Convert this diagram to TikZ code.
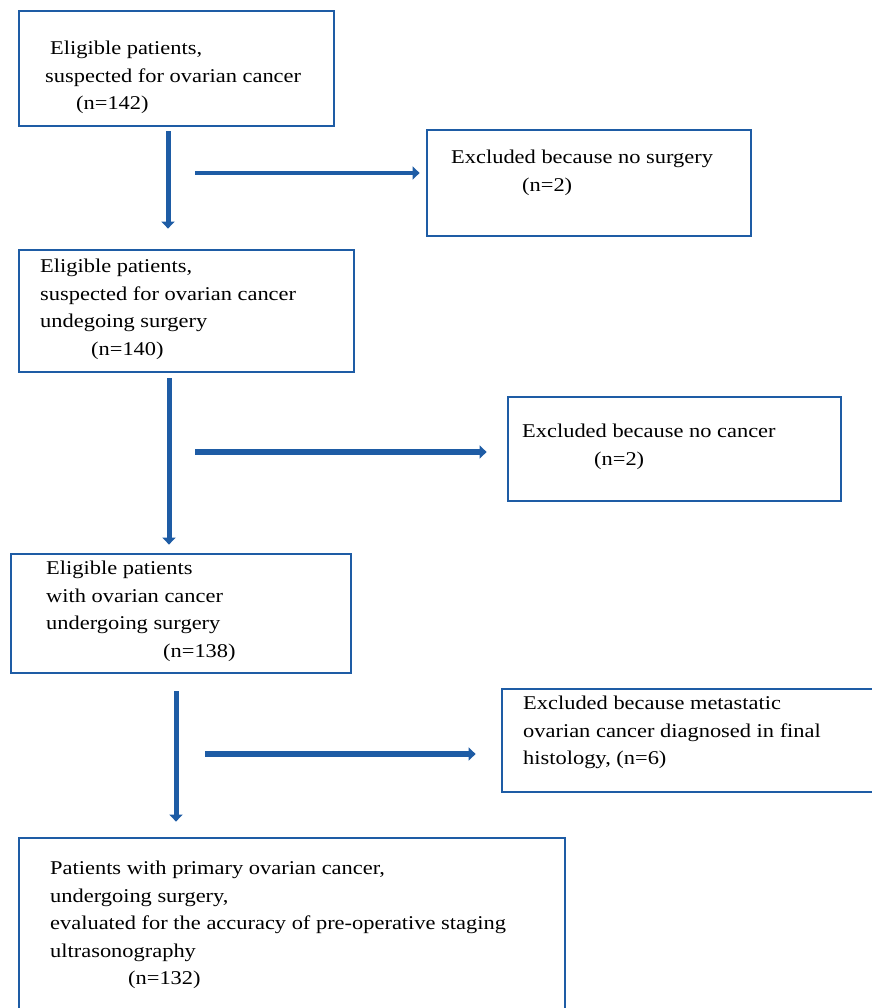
\documentclass[tikz,border=0pt]{standalone}
\usepackage{fontspec}
\setmainfont{Liberation Serif}[FakeStretch=1.15]
\usepackage{tikz}
\usetikzlibrary{positioning,arrows.meta}
\definecolor{azulcaja}{RGB}{30,92,165}
\tikzset{caja/.style={draw=azulcaja, line width=2.8pt, rectangle, inner sep=0pt}}
\tikzset{texto/.style={anchor=north west, inner sep=0pt, align=left, font=\fontsize{19.5}{27.5}\selectfont}}
\tikzset{flecha/.style={draw=azulcaja, line width=5pt, -{Triangle[length=7pt,width=13pt]}}}

\begin{document}
\begin{tikzpicture}[x=1pt, y=-1pt]
            \useasboundingbox (0,0) rectangle (871,1008);
            % cajas principales
            \node[caja, minimum width=315, minimum height=115] (1) at (176.5,68.5) {};
            \node[caja, minimum width=335, minimum height=122] (2) at (186.5,311) {};
            \node[caja, minimum width=340, minimum height=119] (3) at (181,613.5) {};
            \node[caja, minimum width=546, minimum height=182] (4) at (292,929) {};
            % cajas de excluidos
            \node[caja, minimum width=324, minimum height=106] (x1) at (589,183) {};
            \node[caja, minimum width=333, minimum height=104] (x2) at (674.5,449) {};
            \node[caja, minimum width=383, minimum height=103] (x3) at (693.5,740.5) {};

            \node[texto] (t1) at (45,41) {\hspace*{5pt}Eligible patients,\\suspected for ovarian cancer\\\hspace*{31pt}(n=142)};
            \node[texto] (t2) at (40,259) {Eligible patients,\\suspected for ovarian cancer\\undegoing surgery\\\hspace*{51pt}(n=140)};
            \node[texto] (t3) at (46,561) {Eligible patients\\with ovarian cancer\\undergoing surgery\\\hspace*{117pt}(n=138)};
            \node[texto] (t4) at (50,861) {Patients with primary ovarian cancer,\\undergoing surgery,\\evaluated for the accuracy of pre-operative staging\\ultrasonography\\\hspace*{78pt}(n=132)};
            \node[texto] (tx1) at (451,150) {Excluded because no surgery\\\hspace*{71pt}(n=2)};
            \node[texto] (tx2) at (522,424) {Excluded because no cancer\\\hspace*{72pt}(n=2)};
            \node[texto] (tx3) at (523,696) {Excluded because metastatic\\ovarian cancer diagnosed in final\\histology, (n=6)};

            \coordinate (h1) at (195,173);
            \coordinate (h2) at (195,452);
            \coordinate (h3) at (205,754);

            \draw[flecha, shorten <=4pt, shorten >=20pt] ([xshift=-8.5pt]1.south) -- ([xshift=-18.5pt]2.north);
            \draw[flecha, shorten <=5pt, shorten >=8pt] ([xshift=-17.5pt]2.south) -- ([xshift=-12pt]3.north);
            \draw[flecha, shorten <=17pt, shorten >=15pt] ([xshift=-5pt]3.south) -- ([xshift=-116pt]4.north);
            \draw[flecha, line width=4.5pt, shorten >=6pt] (h1) -- ([yshift=10pt]x1.west);
            \draw[flecha, line width=5.5pt, shorten >=20pt] (h2) -- ([yshift=-3pt]x2.west);
            \draw[flecha, line width=6.5pt, shorten >=25pt] (h3) -- ([yshift=-13.5pt]x3.west);
        \end{tikzpicture}
\end{document}
